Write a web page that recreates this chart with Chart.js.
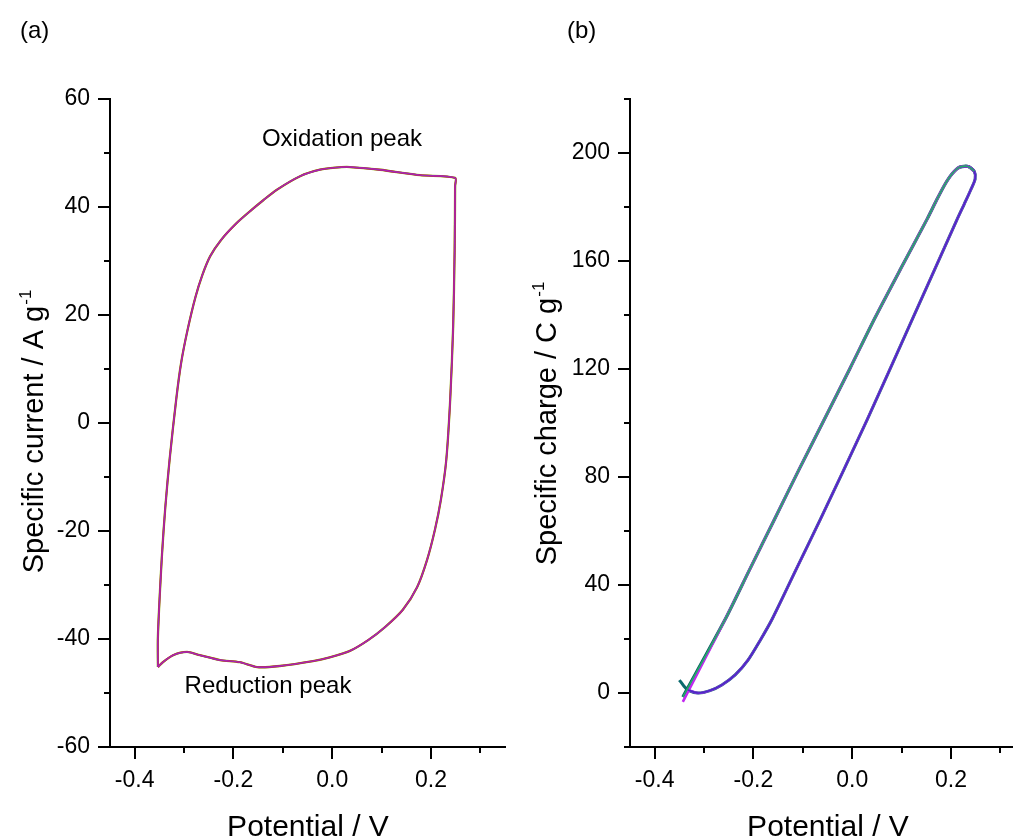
<!DOCTYPE html>
<html>
<head>
<meta charset="utf-8">
<script src="https://cdn.jsdelivr.net/npm/chart.js@4.4.0/dist/chart.umd.min.js"></script>
<style>
  html, body { margin: 0; padding: 0; background: #fff; overflow: hidden; }
  #wrap { position: relative; width: 1013px; height: 838px; overflow: hidden; }
  #cv-a { position: absolute; left: 0; top: 0; }
  #cv-b { position: absolute; left: 515px; top: 0; }
</style>
</head>
<body>
<div id="wrap">
  <canvas id="cv-a" width="515" height="838"></canvas>
  <canvas id="cv-b" width="525" height="838"></canvas>
</div>
<script>
// --- (a) cyclic voltammogram: potential (V) vs specific current (A/g), one closed loop
const cvPotential = [-0.353, -0.353, -0.345, -0.338, -0.329, -0.316, -0.306, -0.293, -0.277, -0.263, -0.247, -0.225,
  -0.195, -0.164, -0.139, -0.112, -0.065, -0.025, 0.006, 0.036, 0.097, 0.178, 0.249,
  0.249, 0.248, 0.245, 0.239, 0.231, 0.220, 0.208, 0.192, 0.172, 0.143, 0.107, 0.073, 0.036,
  -0.005, -0.039, -0.106, -0.152, -0.187, -0.227, -0.268, -0.294, -0.322, -0.343, -0.353];
const cvCurrent = [-45.2, -39.6, -24.8, -15.6, -6.5, 4.3, 11.1, 17.2, 23.3, 27.4, 30.9, 33.9,
  36.9, 39.4, 41.3, 43.2, 45.7, 46.9, 47.3, 47.4, 46.9, 45.9, 45.4,
  43.9, 32.0, 17.8, 4.3, -6.9, -14.3, -19.8, -25.4, -30.4, -34.6, -37.8, -40.2, -42.2,
  -43.4, -44.1, -45.0, -45.2, -44.3, -43.9, -43.0, -42.4, -43.0, -44.3, -45.2];

// --- (b) specific charge (C/g) vs potential (V)
const chargeHookX = [-0.350, -0.341];
const chargeHookY = [4.8, 2.6];
const chargeLowerX = [-0.333, -0.312, -0.288, -0.264, -0.237, -0.211, -0.187, -0.162, -0.114, -0.065, 0.030,
  0.121, 0.212, 0.227, 0.240, 0.249, 0.247, 0.235, 0.218];
const chargeLowerY = [1.1, 0.0, 0.9, 3.0, 6.7, 12.2, 19.3, 27.4, 45.6, 64.1, 101.1,
  138.1, 175.2, 181.1, 186.3, 190.4, 193.3, 195.0, 194.8];
const chargeUpperX = [0.247, 0.235, 0.218, 0.202, 0.186, 0.170, 0.152, 0.099, 0.046, -0.004, -0.056,
  -0.107, -0.158, -0.208, -0.258];
const chargeUpperY = [193.3, 195.0, 194.8, 192.2, 187.8, 182.2, 175.6, 157.4, 138.9, 120.4, 101.5,
  83.0, 64.1, 45.6, 27.0];
const chargeEndGreen = [-0.343, -1.5];
const chargeEndMagenta = [-0.343, -3.3];

// --- ticks
const potentialMajor = [-0.4, -0.2, 0.0, 0.2];
const potentialMinor = [-0.3, -0.1, 0.1, 0.3];
const currentMajor = [-60, -40, -20, 0, 20, 40, 60];
const currentMinor = [-50, -30, -10, 10, 30, 50];
const chargeMajor = [0, 40, 80, 120, 160, 200];
const chargeMinor = [-20, 20, 60, 100, 140, 180, 220];

const FONT = '"Liberation Sans", Arial, Helvetica, sans-serif';

function pts(xs, ys) {
  return xs.map((x, i) => ({ x, y: ys[i] }));
}

function line(data, color, width) {
  return { data, showLine: true, borderColor: color, borderWidth: width, pointRadius: 0, tension: 0.25, fill: false };
}

function axis(min, max, majors, minors, fmt, pad, fit) {
  return {
    type: 'linear', min, max,
    grid: { display: false, drawTicks: false },
    border: { display: true, color: '#000', width: 2 },
    ticks: {
      color: '#000', font: { family: FONT, size: 23 }, padding: pad, autoSkip: false, maxRotation: 0,
      callback: (v) => majors.some(m => Math.abs(m - v) < 1e-9) ? fmt(v) : ''
    },
    afterBuildTicks: (scale) => {
      scale.ticks = [...majors, ...minors].sort((a, b) => a - b).map(v => ({ value: v }));
    },
    afterFit: fit
  };
}

// tick marks (long for labelled, short for minor) + free text
const decor = {
  id: 'decor',
  afterDraw(chart, args, opts) {
    const { ctx, chartArea: ca, scales } = chart;
    ctx.save();
    ctx.strokeStyle = '#000';
    ctx.lineWidth = 2;
    const markX = (vals, len) => vals.forEach(v => {
      const px = Math.round(scales.x.getPixelForValue(v));
      ctx.beginPath(); ctx.moveTo(px, ca.bottom); ctx.lineTo(px, ca.bottom + len); ctx.stroke();
    });
    const markY = (vals, len) => vals.forEach(v => {
      const py = Math.round(scales.y.getPixelForValue(v));
      ctx.beginPath(); ctx.moveTo(ca.left, py); ctx.lineTo(ca.left - len, py); ctx.stroke();
    });
    markX(opts.xMajor, 12); markX(opts.xMinor, 6);
    markY(opts.yMajor, 12); markY(opts.yMinor, 6);

    ctx.fillStyle = '#000';
    ctx.textBaseline = 'alphabetic';
    opts.texts.forEach(t => {
      ctx.font = `${t.size}px ${FONT}`;
      ctx.textAlign = t.align || 'center';
      ctx.fillText(t.text, t.x, t.y);
    });

    // rotated y title with superscript
    const yt = opts.yTitle;
    ctx.translate(yt.x, yt.y);
    ctx.rotate(-Math.PI / 2);
    ctx.textAlign = 'left';
    ctx.font = `${yt.size}px ${FONT}`;
    const w1 = ctx.measureText(yt.text).width;
    ctx.font = `${yt.supSize}px ${FONT}`;
    const w2 = ctx.measureText(yt.sup).width;
    const x0 = -(w1 + w2) / 2;
    ctx.font = `${yt.size}px ${FONT}`;
    ctx.fillText(yt.text, x0, 0);
    ctx.font = `${yt.supSize}px ${FONT}`;
    ctx.fillText(yt.sup, x0 + w1 + 1, -yt.size * 0.42);
    ctx.restore();
  }
};

const fmtX = v => v.toFixed(1);
const fmtY = v => String(v);

function baseOptions(xMin, xMax, yAxis, yWidth, rightPad, decorOpts) {
  return {
    responsive: false,
    animation: false,
    layout: { padding: { left: 0, top: 99, right: rightPad, bottom: 0 } },
    plugins: { legend: { display: false }, tooltip: { enabled: false }, decor: decorOpts },
    scales: {
      x: axis(xMin, xMax, potentialMajor, potentialMinor, fmtX, 20, s => { s.height = 91; }),
      y: Object.assign(yAxis, { afterFit: s => { s.width = yWidth; } })
    }
  };
}

// ---- panel (a)
const cvData = pts(cvPotential, cvCurrent);
new Chart(document.getElementById('cv-a'), {
  type: 'scatter',
  data: {
    datasets: [
      line(cvData, '#a428b4', 1.4),
      line(cvData, '#c8104e', 1.8),
      line(cvData, '#86b400', 2.3)
    ]
  },
  options: baseOptions(-0.45, 0.35,
    axis(-60, 60, currentMajor, currentMinor, fmtY, 20), 110, 10, {
      xMajor: potentialMajor, xMinor: potentialMinor, yMajor: currentMajor, yMinor: currentMinor,
      texts: [
        { text: '(a)', x: 20, y: 38, size: 24, align: 'left' },
        { text: 'Oxidation peak', x: 342, y: 146, size: 24 },
        { text: 'Reduction peak', x: 268, y: 693, size: 24 },
        { text: 'Potential / V', x: 308, y: 836, size: 30 }
      ],
      yTitle: { text: 'Specific current / A g', sup: '-1', x: 43, y: 432, size: 29, supSize: 17 }
    }),
  plugins: [decor]
});

// ---- panel (b)
const lower = pts(chargeLowerX, chargeLowerY);
const upper = pts(chargeUpperX, chargeUpperY);
const hookLower = pts(chargeHookX, chargeHookY).concat(lower);
const upperGreen = upper.concat([{ x: chargeEndGreen[0], y: chargeEndGreen[1] }]);
const upperMagenta = upper.concat([{ x: chargeEndMagenta[0], y: chargeEndMagenta[1] }]);
new Chart(document.getElementById('cv-b'), {
  type: 'scatter',
  data: {
    datasets: [
      line(upperGreen, '#22a86a', 1.8),
      line(lower, '#4a2bc4', 1.6),
      line(upperMagenta, '#c228f0', 2.6),
      line(lower, '#9a30e6', 2.4),
      line(upperGreen, '#0d5f63', 3.2),
      line(hookLower, '#0b6a6e', 3.0)
    ]
  },
  options: baseOptions(-0.45, 0.35,
    axis(-20, 220, chargeMajor, chargeMinor, fmtY, 20), 115, 15, {
      xMajor: potentialMajor, xMinor: potentialMinor, yMajor: chargeMajor, yMinor: chargeMinor,
      texts: [
        { text: '(b)', x: 52, y: 38, size: 24, align: 'left' },
        { text: 'Potential / V', x: 313, y: 836, size: 30 }
      ],
      yTitle: { text: 'Specific charge / C g', sup: '-1', x: 41, y: 424, size: 29, supSize: 17 }
    }),
  plugins: [decor]
});
</script>
</body>
</html>
